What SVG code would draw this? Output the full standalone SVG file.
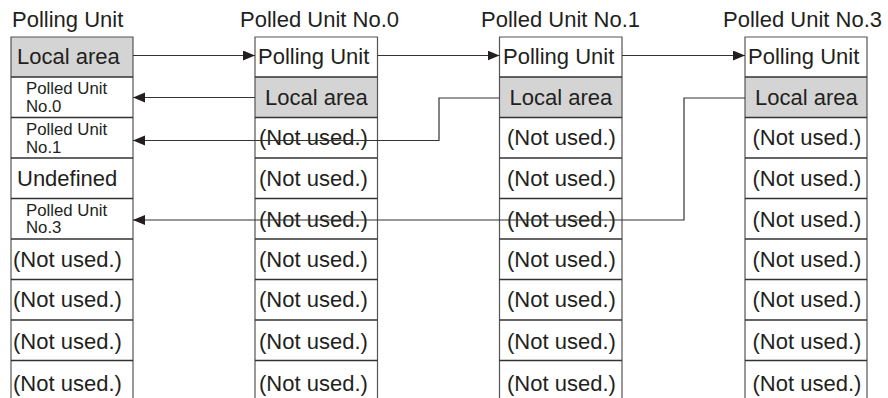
<svg xmlns="http://www.w3.org/2000/svg" width="888" height="398" viewBox="0 0 888 398">
<style>
  text { font-family: "Liberation Sans", Arial, sans-serif; fill: #231f20; }
  .t { font-size: 22px; }
  .s { font-size: 16.8px; }
  .frame { fill: none; stroke: #555; stroke-width: 1.2; }
  .row { stroke: #333; stroke-width: 1.3; }
  .shade { fill: #d4d4d4; }
  .conn { fill: none; stroke: #333; stroke-width: 1.2; }
</style>
<defs>
  <marker id="arr" markerUnits="userSpaceOnUse" markerWidth="13" markerHeight="11" refX="12" refY="5" orient="auto">
    <path d="M0,0 L12,5 L0,10 z" fill="#231f20"/>
  </marker>
</defs>

<!-- Titles -->
<g id="titles">
  <text class="t" x="12" y="27">Polling Unit</text>
  <text class="t" x="240" y="27">Polled Unit No.0</text>
  <text class="t" x="481" y="27">Polled Unit No.1</text>
  <text class="t" x="723" y="27">Polled Unit No.3</text>
</g>

<!-- Column 1: Polling Unit -->
<g id="polling-unit">
  <rect class="shade" x="11" y="37" width="122" height="40"/>
  <path class="frame" d="M11,398 V37 H133 V398"/>
  <path class="row" d="M11,77 H133 M11,117.5 H133 M11,158 H133 M11,198.5 H133 M11,239 H133 M11,279.5 H133 M11,320 H133 M11,360.5 H133"/>
  <text class="t" x="17" y="64">Local area</text>
  <text class="s" x="26" y="94">Polled Unit</text>
  <text class="s" x="26" y="111.5">No.0</text>
  <text class="s" x="26" y="135">Polled Unit</text>
  <text class="s" x="26" y="152.5">No.1</text>
  <text class="t" x="17" y="185.5">Undefined</text>
  <text class="s" x="26" y="215.5">Polled Unit</text>
  <text class="s" x="26" y="233">No.3</text>
  <text class="t" x="13" y="266.5">(Not used.)</text>
  <text class="t" x="13" y="307">(Not used.)</text>
  <text class="t" x="13" y="349">(Not used.)</text>
  <text class="t" x="13" y="391">(Not used.)</text>
</g>

<!-- Column 2: Polled Unit No.0 -->
<g id="polled-unit-0">
  <rect class="shade" x="255" y="77" width="122.5" height="40.5"/>
  <path class="frame" d="M255,398 V37 H377.5 V398"/>
  <path class="row" d="M255,77 H377.5 M255,117.5 H377.5 M255,158 H377.5 M255,198.5 H377.5 M255,239 H377.5 M255,279.5 H377.5 M255,320 H377.5 M255,360.5 H377.5"/>
  <text class="t" x="258" y="64">Polling Unit</text>
  <text class="t" x="265" y="104.5">Local area</text>
  <text class="t" x="259" y="145">(Not used.)</text>
  <text class="t" x="259" y="185.5">(Not used.)</text>
  <text class="t" x="259" y="226.5">(Not used.)</text>
  <text class="t" x="259" y="266.5">(Not used.)</text>
  <text class="t" x="259" y="307">(Not used.)</text>
  <text class="t" x="259" y="349">(Not used.)</text>
  <text class="t" x="259" y="391">(Not used.)</text>
</g>

<!-- Column 3: Polled Unit No.1 -->
<g id="polled-unit-1">
  <rect class="shade" x="499.5" y="77" width="122.5" height="40.5"/>
  <path class="frame" d="M499.5,398 V37 H622 V398"/>
  <path class="row" d="M499.5,77 H622 M499.5,117.5 H622 M499.5,158 H622 M499.5,198.5 H622 M499.5,239 H622 M499.5,279.5 H622 M499.5,320 H622 M499.5,360.5 H622"/>
  <text class="t" x="503" y="64">Polling Unit</text>
  <text class="t" x="509.5" y="104.5">Local area</text>
  <text class="t" x="507" y="145">(Not used.)</text>
  <text class="t" x="507" y="185.5">(Not used.)</text>
  <text class="t" x="507" y="226.5">(Not used.)</text>
  <text class="t" x="507" y="266.5">(Not used.)</text>
  <text class="t" x="507" y="307">(Not used.)</text>
  <text class="t" x="507" y="349">(Not used.)</text>
  <text class="t" x="507" y="391">(Not used.)</text>
</g>

<!-- Column 4: Polled Unit No.3 -->
<g id="polled-unit-3">
  <rect class="shade" x="745" y="77" width="122" height="40.5"/>
  <path class="frame" d="M745,398 V37 H867 V398"/>
  <path class="row" d="M745,77 H867 M745,117.5 H867 M745,158 H867 M745,198.5 H867 M745,239 H867 M745,279.5 H867 M745,320 H867 M745,360.5 H867"/>
  <text class="t" x="748" y="64">Polling Unit</text>
  <text class="t" x="755" y="104.5">Local area</text>
  <text class="t" x="752.5" y="145">(Not used.)</text>
  <text class="t" x="752.5" y="185.5">(Not used.)</text>
  <text class="t" x="752.5" y="226.5">(Not used.)</text>
  <text class="t" x="752.5" y="266.5">(Not used.)</text>
  <text class="t" x="752.5" y="307">(Not used.)</text>
  <text class="t" x="752.5" y="349">(Not used.)</text>
  <text class="t" x="752.5" y="391">(Not used.)</text>
</g>

<!-- Connectors -->
<g id="connectors">
  <path class="conn" d="M133,55.5 H255" marker-end="url(#arr)"/>
  <path class="conn" d="M377.5,55.5 H499.5" marker-end="url(#arr)"/>
  <path class="conn" d="M622,55.5 H745" marker-end="url(#arr)"/>
  <path class="conn" d="M255,97.5 H133" marker-end="url(#arr)"/>
  <path class="conn" d="M499.5,98 H439 V140.5 H133" marker-end="url(#arr)"/>
  <path class="conn" d="M745,98 H684 V220 H133" marker-end="url(#arr)"/>
</g>
</svg>
